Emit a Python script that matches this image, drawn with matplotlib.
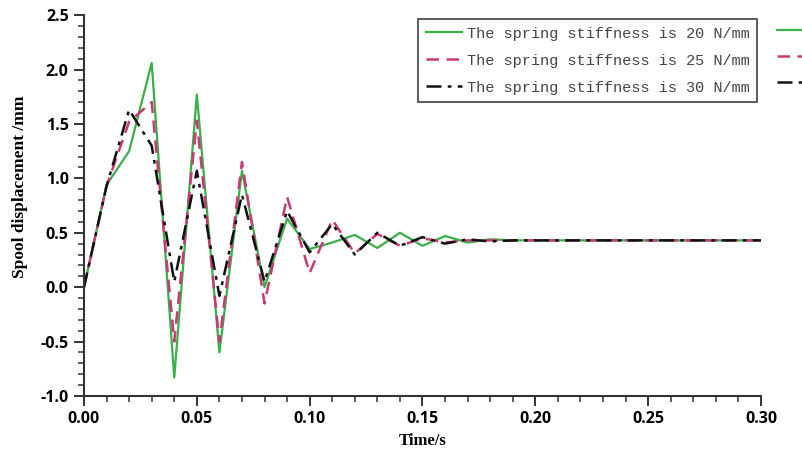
"""plot.py - spool displacement response for three spring stiffness values."""
import matplotlib

matplotlib.use("Agg")
import matplotlib.pyplot as plt
import numpy as np
from matplotlib.ticker import MultipleLocator
from matplotlib.lines import Line2D

# time axis, one sample every 0.01 s
time_s = np.round(np.arange(0, 0.301, 0.01), 2)

# spool displacement /mm
disp_20 = [0.0, 0.94, 1.25, 2.06, -0.83, 1.77, -0.60, 1.07, 0.0, 0.63,
           0.35, 0.41, 0.48, 0.36, 0.50, 0.38, 0.47, 0.41, 0.44, 0.43,
           0.43, 0.43, 0.43, 0.43, 0.43, 0.43, 0.43, 0.43, 0.43, 0.43, 0.43]
disp_25 = [0.0, 0.93, 1.52, 1.70, -0.50, 1.53, -0.50, 1.15, -0.15, 0.83,
           0.13, 0.62, 0.31, 0.49, 0.38, 0.45, 0.41, 0.43, 0.43, 0.43,
           0.43, 0.43, 0.43, 0.43, 0.43, 0.43, 0.43, 0.43, 0.43, 0.43, 0.43]
disp_30 = [0.0, 0.93, 1.63, 1.30, 0.05, 1.07, -0.08, 0.85, 0.05, 0.70,
           0.32, 0.58, 0.30, 0.50, 0.38, 0.46, 0.40, 0.44, 0.42, 0.43,
           0.43, 0.43, 0.43, 0.43, 0.43, 0.43, 0.43, 0.43, 0.43, 0.43, 0.43]

labels = ["The spring stiffness is 20 N/mm",
          "The spring stiffness is 25 N/mm",
          "The spring stiffness is 30 N/mm"]

GREEN = "#3aae48"
MAGENTA = "#c83a74"
BLACK = "#111111"
AXIS = "#333333"
DASH = (0, (5, 3))
DASHDOT = (0, (6, 2.5, 1.5, 2.5))

fig = plt.figure(figsize=(8.03, 4.58), dpi=100)
ax = fig.add_axes([0.1046, 0.1354, 0.8431, 0.8316])

ax.plot(time_s, disp_20, color=GREEN, lw=1.6, ls="-", label=labels[0])
ax.plot(time_s, disp_25, color=MAGENTA, lw=1.8, ls=DASH, label=labels[1])
ax.plot(time_s, disp_30, color=BLACK, lw=1.8, ls=DASHDOT, label=labels[2])

ax.set_xlim(0, 0.30)
ax.set_ylim(-1.0, 2.5)
ax.xaxis.set_major_locator(MultipleLocator(0.05))
ax.xaxis.set_minor_locator(MultipleLocator(0.01))
ax.yaxis.set_major_locator(MultipleLocator(0.5))
ax.yaxis.set_minor_locator(MultipleLocator(0.1))
ax.xaxis.set_major_formatter(plt.FuncFormatter(lambda v, _: f"{v:.2f}"))
ax.yaxis.set_major_formatter(plt.FuncFormatter(lambda v, _: f"{v:.1f}"))

for side in ("top", "right"):
    ax.spines[side].set_visible(False)
for side in ("left", "bottom"):
    ax.spines[side].set_linewidth(1.5)
    ax.spines[side].set_color(AXIS)

ax.tick_params(which="major", direction="out", length=7, width=1.4, color=AXIS, pad=4)
ax.tick_params(which="minor", direction="out", length=4, width=1.1, color=AXIS)
for lab in ax.get_xticklabels() + ax.get_yticklabels():
    lab.set_fontfamily("Open Sans")
    lab.set_fontweight("bold")
    lab.set_fontsize(11.5)

ax.set_xlabel("Time/s", family="Liberation Serif", weight="bold", fontsize=12, labelpad=4)
ax.set_ylabel("Spool displacement /mm", family="Liberation Serif", weight="bold",
              fontsize=12.5)
ax.yaxis.set_label_coords(-0.082, 0.55)

leg = ax.legend(loc="upper right", bbox_to_anchor=(0.9945, 0.99),
                prop={"family": "Liberation Mono", "size": 11},
                frameon=True, fancybox=False, handlelength=2.4, handletextpad=0.3,
                borderpad=0.5, labelspacing=0.85, borderaxespad=0.0)
leg.get_frame().set_edgecolor("#222222")
leg.get_frame().set_linewidth(1.3)
for t in leg.get_texts():
    t.set_color("#444444")

# the duplicate legend cut off at the right edge of the picture (only its lines show)
handles = [Line2D([], [], color=GREEN, lw=1.6, ls="-"),
           Line2D([], [], color=MAGENTA, lw=1.8, ls=DASH),
           Line2D([], [], color=BLACK, lw=1.8, ls=DASHDOT)]
fig.legend(handles, ["", "", ""], loc="upper left", bbox_to_anchor=(0.95, 0.98),
           prop={"size": 11}, frameon=False,
           handlelength=2.4, handletextpad=0.0, borderpad=0.4, labelspacing=0.75)

fig.savefig("out.png", dpi=100)
